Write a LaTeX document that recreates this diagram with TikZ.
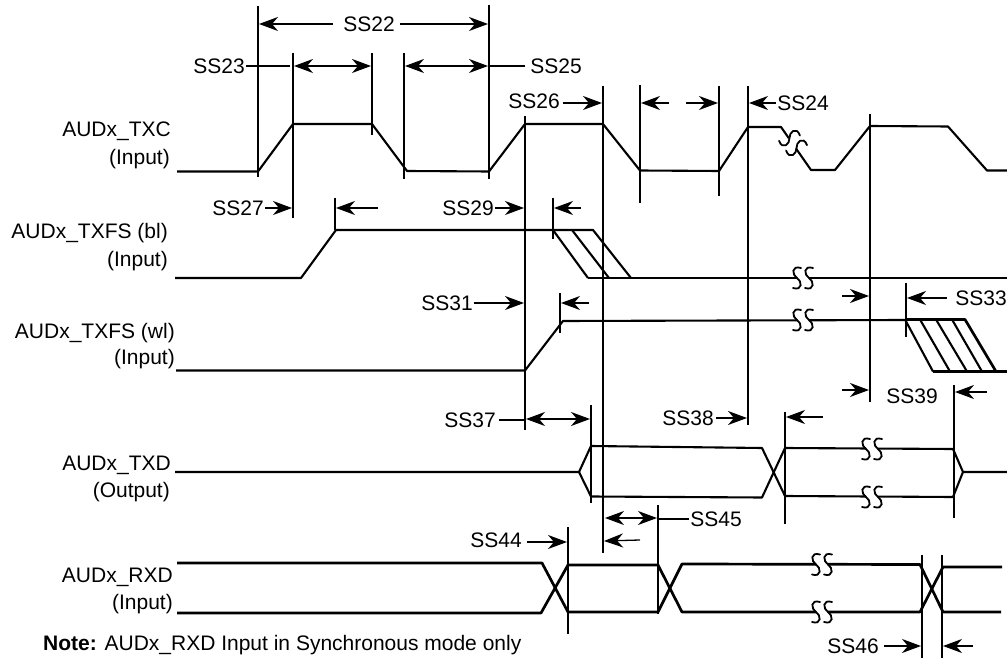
\documentclass[tikz,border=0pt]{standalone}
\usepackage{fontspec}
\setmainfont{Liberation Sans}
\usetikzlibrary{arrows.meta}

\tikzset{
  wave/.style={line width=2.7pt,line join=round},
  thinwave/.style={line width=2.1pt,line join=round},
  tick/.style={line width=1.9pt},
  dim/.style={line width=1.3pt},
  sig/.style={anchor=base east,inner sep=0pt},
  lbl/.style={inner sep=1.5pt},
  >={Stealth[length=19pt,width=14pt,inset=6pt]},
  breakmark/.pic={
    \fill[white] (-6,-8) rectangle (6,8);
    \foreach \d in {-6,6}
    \draw[line width=1.8pt,line cap=round] (\d+4,-10) .. controls (\d-6,-13) and (\d-5,-3) .. (\d,0)
    .. controls (\d+5,3) and (\d+6,13) .. (\d-4,10);
  }
}

\begin{document}
\begin{tikzpicture}[x=1pt,y=-1pt,font=\fontsize{21}{24}\selectfont]
    \useasboundingbox (0,0) rectangle (1007,660);

    \draw[thinwave] (177,171.5) -- (258,171.5) -- (293,124) -- (372,124) -- (407,171) -- (489,171.5)
    -- (525,124) -- (603,124) -- (640,170.5) -- (719,171) -- (748,127) -- (781,127) -- (811,170)
    -- (835,170) -- (870,126) -- (948,126.5) -- (987,170.5) -- (1007,170.5);

    \draw[thinwave] (175,278) -- (301,278) -- (336,230) -- (593,230) -- (631,278);
    \draw[wave] (588,278) -- (1007,278);
    \draw[thinwave] (553,230) -- (588,278);
    \draw[thinwave] (572,230) -- (609,278);

    \draw[thinwave] (176,370.5) -- (525,370.5) -- (563,321) -- (905,320);
    \draw[wave] (905,319.5) -- (965,319.5) -- (996,371.5);
    \draw[wave] (933,371.5) -- (1007,371.5);
    \foreach \a/\b in {905/933,920/950,936/967,952/982}
    \draw[thinwave] (\a,319.5) -- (\b,371.5);

    \draw[thinwave] (175,472) -- (579,472) -- (591,446) -- (762,448) -- (785,496) -- (953,497)
    -- (963,472) -- (1007,472);
    \draw[thinwave] (579,472) -- (591,496.5) -- (762,497.5) -- (785,448) -- (953,449) -- (963,472);

    \draw[wave] (177,563) -- (542,563) -- (568,612) -- (658,612) -- (682,564) -- (920,564.5)
    -- (943,612) -- (1001,612);
    \draw[wave] (177,613) -- (541,613) -- (568,565) -- (658,565) -- (682,612) -- (920,612)
    -- (943,567) -- (1002,567);

    \foreach \x/\y in {803/278,803/320,872/449,872/497,822/564.5,822/612}
    \draw (\x,\y) pic {breakmark};
    \draw (793,143) pic[rotate=-54] {breakmark};

    \foreach \x/\a/\b in {258/6/177,489/5/179,293/53/218,372/53/135,404/53/179,525/116/430,
      335/198/230,553/198/239,603/86/553,640/85/203,719/86/196,870/114/402,906/283/337,
      560/293/333,591/405/503,785/412/524,954/385/518,568/527/634,658/505/614,922/555/658,
      942/555/658}
    \draw[tick] (\x,\a) -- (\x,\b);
    \draw[line width=1.2pt] (748,86) -- (748,425);

    \node[sig] (txc) at (171,137) {AUDx\_TXC};
    \node[sig] (txcdir) at (170,164.5) {(Input)};
    \node[sig] (txfsbl) at (168,239) {AUDx\_TXFS (bl)};
    \node[sig] (txfsbldir) at (168,266.5) {(Input)};
    \node[sig] (txfswl) at (175,338) {AUDx\_TXFS (wl)};
    \node[sig] (txfswldir) at (175,364.5) {(Input)};
    \node[sig] (txd) at (171,470) {AUDx\_TXD};
    \node[sig] (txddir) at (170,497.5) {(Output)};
    \node[sig] (rxd) at (173,582.5) {AUDx\_RXD};
    \node[sig] (rxddir) at (173,609.5) {(Input)};

    \node[lbl,inner xsep=5pt] (ss22) at (369,24) {SS22};
    \node[lbl] (ss23) at (219,66) {SS23};
    \node[lbl,inner xsep=5pt] (ss25) at (556,66) {SS25};
    \node[lbl,inner xsep=3.5pt] (ss26) at (534,101) {SS26};
    \node[lbl] (ss24) at (803,103) {SS24};
    \node[lbl] (ss27) at (238,208) {SS27};
    \node[lbl] (ss29) at (468,208) {SS29};
    \node[lbl] (ss31) at (447,303) {SS31};
    \node[lbl,inner xsep=8pt] (ss33) at (981,298) {SS33};
    \node[lbl] (ss39) at (912,396) {SS39};
    \node[lbl,inner xsep=3.5pt] (ss37) at (470,420) {SS37};
    \node[lbl,inner xsep=2.5pt] (ss38) at (688,418) {SS38};
    \node[lbl] (ss45) at (716,519) {SS45};
    \node[lbl,inner xsep=5.5pt] (ss44) at (496,540) {SS44};
    \node[lbl,inner xsep=5.5pt] (ss46) at (853,646) {SS46};

    \draw[dim,->] ([xshift=-5pt]ss22.west) -- (259,24);
    \draw[dim,->] (ss22) -- (488,24);
    \draw[dim] (ss23) -- (290,66);
    \draw[dim,<->] (294,66) -- (371,66);
    \draw[dim,<->] (405,66) -- (488,66);
    \draw[dim] (ss25) -- (490,66);
    \draw[dim,->] (ss26.east |- 0,103) -- (602,103);
    \draw[dim,->] (669,103) -- (641,103);
    \draw[dim,->] (686,103) -- (718,103);
    \draw[dim,->] (ss24) -- (749,103);
    \draw[dim,->] (ss27) -- (292,208);
    \draw[dim,->] (378,208) -- (336,208);
    \draw[dim,->] (ss29) -- (524,208);
    \draw[dim,->] (581,208) -- (554,208);
    \draw[dim,->] (ss31) -- (524,303);
    \draw[dim,->] (589,303) -- (561,303);
    \draw[dim,->] (842,296) -- (869,296);
    \draw[dim,->] (ss33) -- (907,298);
    \draw[dim,->] (842,390) -- (869,390);
    \draw[dim,->] (987,392) -- (955,392);
    \draw[dim] (ss37) -- (525,420);
    \draw[dim,<->] (526,419) -- (590,419);
    \draw[dim,->] (ss38) -- (747,418);
    \draw[dim,->] (823,417) -- (786,417);
    \draw[dim,<->] (605,518) -- (657,518);
    \draw[dim] (ss45) -- (658,519);
    \draw[dim,->] (640,540) -- (604,541);
    \draw[dim,->] (ss44.east |- 0,542) -- (567,542);
    \draw[dim,->] (ss46) -- (921,646);
    \draw[dim,->] (973,646) -- (943,646);

    \node[anchor=base west,inner sep=0pt] (note) at (43,650)
    {\textbf{Note:} AUDx\_RXD Input in Synchronous mode only};
\end{tikzpicture}
\end{document}
